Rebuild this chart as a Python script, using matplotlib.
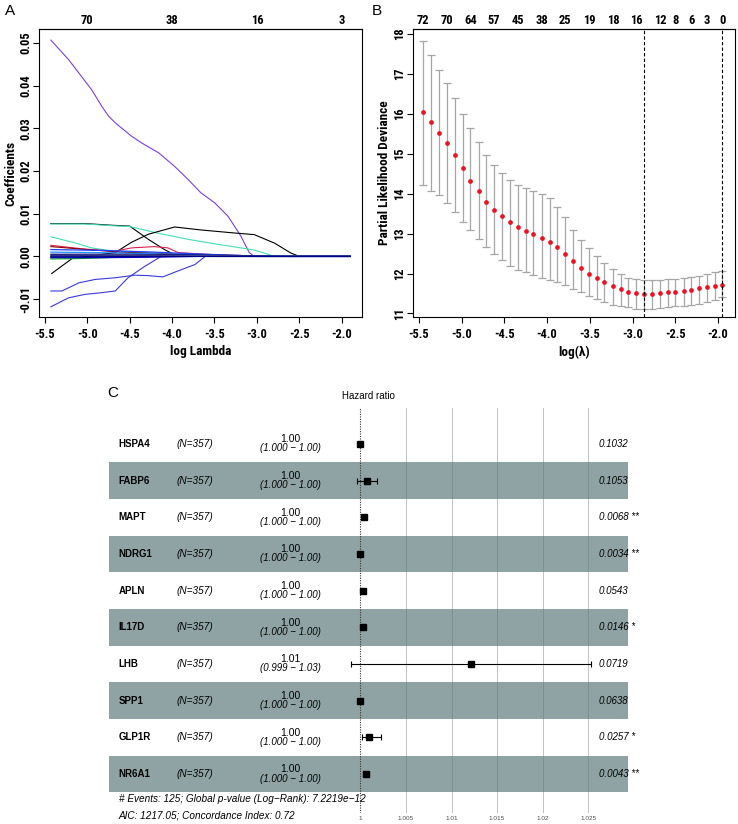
import matplotlib
matplotlib.use("Agg")
import matplotlib.pyplot as plt
from matplotlib import font_manager as fm
from matplotlib.transforms import blended_transform_factory

installed = {f.name for f in fm.fontManager.ttflist}
narrow = 'Liberation Sans'
for cand in ['Liberation Sans Narrow', 'Arial Narrow', 'Nimbus Sans Narrow', 'Roboto Condensed']:
    if cand in installed:
        narrow = cand
        break
plt.rcParams['font.family'] = [narrow, 'Liberation Sans', 'DejaVu Sans']

# ---------------- panel A: coefficient paths ----------------
lam_end = -1.90
purple_x = [-5.43, -5.22, -5.07, -4.95, -4.83, -4.75, -4.67, -4.48, -4.36, -4.16, -3.97, -3.81, -3.66, -3.50, -3.34, -3.19, -3.09, -3.03, lam_end]
purple_y = [0.0507, 0.0461, 0.0422, 0.0391, 0.0352, 0.0329, 0.0313, 0.0282, 0.0266, 0.0243, 0.0211, 0.0180, 0.0149, 0.0126, 0.0094, 0.0048, 0.0009, 0.0, 0.0]
black1_x = [-5.43, -5.03, -4.71, -4.50, -4.28, -4.09, -3.93, lam_end]
black1_y = [0.0077, 0.0077, 0.0073, 0.0071, 0.0040, 0.0016, 0.0, 0.0]
aqua1_x = [-5.43, -5.03, -4.71, -4.50, -4.18, -3.81, -3.45, -3.03, -2.79, lam_end]
aqua1_y = [0.0076, 0.0076, 0.0072, 0.0070, 0.0055, 0.0040, 0.0028, 0.0015, 0.0, 0.0]
aqua2_x = [-5.43, -5.15, -4.95, -4.68, -4.30, -3.90, -3.40, lam_end]
aqua2_y = [0.0046, 0.0032, 0.0020, 0.0012, 0.0009, 0.0005, 0.0, 0.0]
black2_x = [-5.42, -5.18, -4.67, -4.48, -4.28, -3.97, -3.66, -3.27, -3.03, -2.79, -2.60, -2.50, lam_end]
black2_y = [-0.0040, -0.0005, 0.0009, 0.0033, 0.0052, 0.0069, 0.0062, 0.0055, 0.0051, 0.0031, 0.0008, 0.0, 0.0]
blue1_x = [-5.43, -5.30, -5.10, -4.91, -4.67, -4.44, -4.28, -4.11, -3.93, -3.73, -3.61, lam_end]
blue1_y = [-0.0081, -0.0081, -0.0062, -0.0054, -0.0050, -0.0044, -0.0045, -0.0048, -0.0034, -0.0019, 0.0, 0.0]
blue2_x = [-5.43, -5.22, -5.03, -4.83, -4.67, -4.52, -4.32, -4.13, lam_end]
blue2_y = [-0.0118, -0.0097, -0.0089, -0.0085, -0.0081, -0.0050, -0.0023, 0.0, 0.0]
red_x = [-5.43, -5.07, -4.68, -4.48, -4.21, -4.05, -3.93, -3.50, -2.80, lam_end]
red_y = [0.0026, 0.0018, 0.0012, 0.0020, 0.0023, 0.0020, 0.0009, 0.0004, 0.0, 0.0]
maroon_x = [-5.43, -5.00, -4.60, -4.00, -3.00, lam_end]
maroon_y = [0.0023, 0.0016, 0.0010, 0.0006, 0.0, 0.0]
small_x = [
    [-5.43, -4.80, -4.20, -3.60, -2.90, lam_end],
    [-5.43, -4.90, -4.40, -3.80, -3.00, lam_end],
    [-5.43, -4.70, -4.00, -3.20, -2.60, lam_end],
    [-5.43, -5.10, -4.80, -4.40, lam_end],
    [-5.43, -4.90, -4.30, -3.70, lam_end],
    [-5.43, -4.50, -3.90, -3.10, lam_end],
    [-5.43, -4.60, -3.40, lam_end],
    [-5.43, -5.00, -4.30, lam_end],
]
small_y = [
    [0.0016, 0.0014, 0.0010, 0.0005, 0.0, 0.0],
    [0.0010, 0.0009, 0.0007, 0.0004, 0.0, 0.0],
    [0.0005, 0.0005, 0.0004, 0.0002, 0.0, 0.0],
    [-0.0006, -0.0005, -0.0003, 0.0, 0.0],
    [-0.0003, -0.0003, -0.0002, 0.0, 0.0],
    [0.0002, 0.0003, 0.0002, 0.0, 0.0],
    [0.0001, 0.0001, 0.0, 0.0],
    [-0.0001, -0.0001, 0.0, 0.0],
]
small_colors = ['#2040ff', '#1e90ff', '#000080', '#22bb22', '#0000cd', '#888888', '#000080', '#00008b']
top_a_pos = [-5.0, -4.0, -3.0, -2.0]
top_a_lab = ['70', '38', '16', '3']

# ---------------- panel B: cross-validation ----------------
cv_lam = [-5.45, -5.36, -5.27, -5.17, -5.08, -4.99, -4.90, -4.80, -4.71, -4.62,
          -4.53, -4.43, -4.34, -4.25, -4.16, -4.06, -3.97, -3.88, -3.79, -3.70,
          -3.60, -3.51, -3.42, -3.33, -3.23, -3.14, -3.05, -2.96, -2.87, -2.77,
          -2.68, -2.59, -2.50, -2.40, -2.31, -2.22, -2.13, -2.04, -1.95]
cv_mean = [16.04, 15.79, 15.52, 15.27, 14.98, 14.64, 14.33, 14.07, 13.80, 13.60,
           13.43, 13.28, 13.16, 13.06, 12.98, 12.89, 12.80, 12.66, 12.48, 12.31,
           12.14, 12.00, 11.89, 11.79, 11.69, 11.61, 11.54, 11.51, 11.49, 11.49,
           11.51, 11.53, 11.54, 11.57, 11.59, 11.63, 11.65, 11.69, 11.72]
cv_up = [17.83, 17.48, 17.10, 16.77, 16.40, 16.00, 15.65, 15.29, 14.98, 14.71,
         14.53, 14.35, 14.23, 14.15, 14.08, 14.00, 13.90, 13.68, 13.42, 13.10,
         12.85, 12.63, 12.43, 12.27, 12.11, 12.00, 11.90, 11.87, 11.83, 11.83,
         11.85, 11.87, 11.87, 11.90, 11.92, 11.95, 11.98, 12.03, 12.07]
cv_lo = [14.23, 14.08, 13.96, 13.78, 13.54, 13.29, 13.08, 12.86, 12.67, 12.50,
         12.35, 12.20, 12.10, 12.03, 11.96, 11.90, 11.85, 11.79, 11.71, 11.62,
         11.53, 11.43, 11.36, 11.29, 11.22, 11.18, 11.15, 11.12, 11.12, 11.12,
         11.14, 11.16, 11.18, 11.19, 11.22, 11.24, 11.28, 11.33, 11.42]
lam_min = -2.87
lam_1se = -1.95
top_b_idx = [0, 3, 6, 9, 12, 15, 18, 21, 24, 27, 30, 32, 34, 36, 38]
top_b_lab = ['72', '70', '64', '57', '45', '38', '25', '19', '18', '16', '12', '8', '6', '3', '0']

# ---------------- panel C: forest plot ----------------
genes = ['HSPA4', 'FABP6', 'MAPT', 'NDRG1', 'APLN', 'IL17D', 'LHB', 'SPP1', 'GLP1R', 'NR6A1']
n_lab = ['(N=357)'] * 10
hr_lab = ['1.00', '1.00', '1.00', '1.00', '1.00', '1.00', '1.01', '1.00', '1.00', '1.00']
ci_lab = ['(1.000 \u2212 1.00)'] * 6 + ['(0.999 \u2212 1.03)'] + ['(1.000 \u2212 1.00)'] * 3
hr = [1.0000, 1.0007, 1.0004, 1.0000, 1.0003, 1.0003, 1.0121, 1.0000, 1.0009, 1.0006]
ci_low = [0.99997, 0.99967, 1.0002, 0.99992, 1.0001, 1.0001, 0.99895, 0.99992, 1.00015, 1.0003]
ci_high = [1.00003, 1.00187, 1.0006, 1.00008, 1.0005, 1.0005, 1.02526, 1.00008, 1.00227, 1.0009]
pvals = ['0.1032', '0.1053', '0.0068 **', '0.0034 **', '0.0543', '0.0146 *', '0.0719', '0.0638', '0.0257 *', '0.0043 **']
hr_ticks = [1, 1.005, 1.01, 1.015, 1.02, 1.025]
hr_tick_lab = ['1', '1.005', '1.01', '1.015', '1.02', '1.025']
note1 = '# Events: 125; Global p-value (Log\u2212Rank): 7.2219e\u221212'
note2 = 'AIC: 1217.05; Concordance Index: 0.72'

W, H = 738, 824
fig = plt.figure(figsize=(W / 100, H / 100), dpi=100)


def px_axes(l, t, r, b):
    return fig.add_axes([l / W, 1 - b / H, (r - l) / W, (b - t) / H])


def r_style(ax):
    for s in ax.spines.values():
        s.set_linewidth(0.8)
    ax.tick_params(direction='out', length=4.5, width=0.8, labelsize=9, pad=0.5)
    ax.tick_params(axis='x', pad=3.5)
    ax.tick_params(axis='y', labelrotation=90)
    for lab in ax.get_yticklabels():
        lab.set_va('center')
    for lab in ax.get_xticklabels() + ax.get_yticklabels():
        lab.set_fontweight('bold')


# panel A
axA = px_axes(39, 29, 362, 317)
paths = [(purple_x, purple_y, '#7b3fe4'), (black1_x, black1_y, 'black'),
         (aqua1_x, aqua1_y, '#3fe0b8'), (aqua2_x, aqua2_y, '#3fe0b8'),
         (black2_x, black2_y, 'black'), (blue1_x, blue1_y, '#3a3ae0'),
         (blue2_x, blue2_y, '#3a3ae0'), (red_x, red_y, '#e0204f'),
         (maroon_x, maroon_y, '#8b0000')]
for xs, ys, c in paths:
    axA.plot(xs, ys, color=c, lw=0.8)
for xs, ys, c in zip(small_x, small_y, small_colors):
    axA.plot(xs, ys, color=c, lw=0.9)
axA.set_xlim(-5.57, -1.76)
axA.set_ylim(-0.0142, 0.0533)
axA.set_xticks([-5.5, -5.0, -4.5, -4.0, -3.5, -3.0, -2.5, -2.0])
axA.set_xticklabels(['-5.5', '-5.0', '-4.5', '-4.0', '-3.5', '-3.0', '-2.5', '-2.0'])
axA.set_yticks([-0.01, 0.0, 0.01, 0.02, 0.03, 0.04, 0.05])
axA.set_yticklabels(['-0.01', '0.00', '0.01', '0.02', '0.03', '0.04', '0.05'])
r_style(axA)
axA.set_xlabel('log Lambda', fontsize=9.5, fontweight='bold', labelpad=3)
axA.set_ylabel('Coefficients', fontsize=9.5, fontweight='bold', labelpad=1.5)
topA = axA.secondary_xaxis('top')
topA.set_xticks(top_a_pos)
topA.set_xticklabels(top_a_lab, fontweight='bold', fontsize=9)
topA.tick_params(length=0, pad=1.5)
fig.text(10 / W, 1 - 11 / H, 'A', fontsize=11, ha='center', va='center', family=['Liberation Sans', 'DejaVu Sans'])

# panel B
axB = px_axes(412.7, 29, 735, 317)
yerr = [[m - lo for m, lo in zip(cv_mean, cv_lo)], [u - m for m, u in zip(cv_mean, cv_up)]]
axB.errorbar(cv_lam, cv_mean, yerr=yerr, fmt='none', ecolor='#a6a6a6', elinewidth=0.9,
             capsize=3, capthick=0.9)
axB.plot(cv_lam, cv_mean, 'o', color='#ee1122', ms=3.4, mec='none')
axB.axvline(lam_min, color='black', ls=(0, (3, 2)), lw=0.8)
axB.axvline(lam_1se, color='black', ls=(0, (3, 2)), lw=0.8)
axB.set_xlim(-5.574, -1.80)
axB.set_ylim(10.91, 18.13)
axB.set_xticks([-5.5, -5.0, -4.5, -4.0, -3.5, -3.0, -2.5, -2.0])
axB.set_xticklabels(['-5.5', '-5.0', '-4.5', '-4.0', '-3.5', '-3.0', '-2.5', '-2.0'])
axB.set_yticks([11, 12, 13, 14, 15, 16, 17, 18])
r_style(axB)
axB.set_xlabel('log(\u03bb)', fontsize=9.5, fontweight='bold', labelpad=3)
axB.set_ylabel('Partial Likelihood Deviance', fontsize=9.5, fontweight='bold', labelpad=1.5)
topB = axB.secondary_xaxis('top')
topB.set_xticks([cv_lam[i] for i in top_b_idx])
topB.set_xticklabels(top_b_lab, fontweight='bold', fontsize=9)
topB.tick_params(length=0, pad=1.5)
fig.text(377 / W, 1 - 11 / H, 'B', fontsize=11, ha='center', va='center', family=['Liberation Sans', 'DejaVu Sans'])

# panel C
cfont = ['Liberation Sans', 'DejaVu Sans']
axC = px_axes(109, 408, 627.7, 813)
axC.set_xlim(0.972445, 1.02932)
axC.set_ylim(10.06, -0.98)
axC.axis('off')
for t in hr_ticks[1:]:
    axC.axvline(t, color='#dcdcdc', lw=0.7, zorder=1)
for i in range(len(genes)):
    if i % 2 == 1:
        axC.axhspan(i - 0.5, i + 0.5, color='#8fa3a5', zorder=2, lw=0)
for t in hr_ticks[1:]:
    axC.axvline(t, color='black', alpha=0.12, lw=0.7, zorder=3)
axC.axvline(1.0, color='#333333', ls=(0, (1, 1.2)), lw=0.8, zorder=4)
axC.errorbar(hr, range(len(genes)), xerr=[[h - l for h, l in zip(hr, ci_low)], [u - h for h, u in zip(hr, ci_high)]],
             fmt='s', color='black', ms=4.8, elinewidth=0.8, capsize=2, capthick=0.8, zorder=5)
tr = blended_transform_factory(axC.transAxes, axC.transData)
for i in range(len(genes)):
    axC.text(0.019, i, genes[i], transform=tr, fontsize=7, fontweight='bold', va='center', family=cfont)
    axC.text(0.131, i, n_lab[i], transform=tr, fontsize=7.2, style='italic', va='center', family=cfont)
    axC.text(0.350, i - 0.13, hr_lab[i], transform=tr, fontsize=7.5, ha='center', va='center', family=cfont)
    axC.text(0.350, i + 0.12, ci_lab[i], transform=tr, fontsize=7, style='italic', ha='center', va='center', family=cfont)
    axC.text(0.9447, i, pvals[i], transform=tr, fontsize=7, style='italic', va='center', family=cfont, clip_on=False)
axC.text(0.019, 9.68, note1, transform=tr, fontsize=7.2, style='italic', va='center', family=cfont)
axC.text(0.019, 10.14, note2, transform=tr, fontsize=7.2, style='italic', va='center', family=cfont, clip_on=False)
for t, lab in zip(hr_ticks, hr_tick_lab):
    axC.text(t, 10.2, lab, fontsize=4.6, color='#4d4d4d', ha='center', va='center', family=cfont, clip_on=False)
axC.text(0.5, -1.31, 'Hazard ratio', transform=tr, fontsize=7, ha='center', va='center', family=cfont, clip_on=False)
fig.text(113 / W, 1 - 393 / H, 'C', fontsize=11, ha='center', va='center', family=cfont)

fig.savefig('out.png', dpi=100)
